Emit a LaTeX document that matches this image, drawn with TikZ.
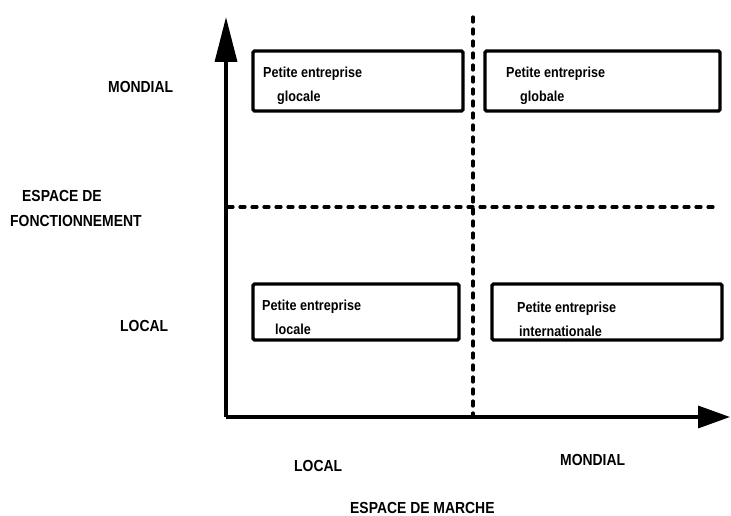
\documentclass[tikz,border=0pt]{standalone}
\usepackage{fontspec}
\setmainfont{Liberation Sans}[FakeStretch=0.87]
\usetikzlibrary{arrows.meta}
\begin{document}
\begin{tikzpicture}[x=1pt,y=-1pt,
  axis/.style={line width=3.4pt},
  divider/.style={line width=3.2pt, line cap=round, dash pattern=on 5pt off 7pt},
  quadbox/.style={draw, line width=3.4pt, rounded corners=1.5pt},
  boxtext/.style={anchor=base west, inner sep=0pt, font=\fontsize{14.5}{17}\selectfont\bfseries},
  axislabel/.style={anchor=base west, inner sep=0pt, font=\fontsize{16}{19}\selectfont\bfseries}]
\useasboundingbox (0,0) rectangle (731,516);

% axes
\coordinate (O) at (226,417);
\coordinate (ytop) at (226,17);
\coordinate (xend) at (730,417);
\draw[axis, -{Triangle[length=45pt,width=22pt]}] (O) -- (ytop);
\draw[axis, -{Triangle[length=32pt,width=22pt]}] (O) -- (xend);

% quadrant dividers
\coordinate (vtop) at (473,17);
\coordinate (vbot) at (473,415);
\coordinate (hleft) at (228,207);
\coordinate (hright) at (718,207);
\draw[divider] (vtop) -- (vbot);
\draw[divider] (hleft) -- (hright);

% quadrant boxes
\draw[quadbox] (253,51) rectangle (463,111);
\draw[quadbox] (485,51) rectangle (720,111);
\draw[quadbox] (253,284) rectangle (459,340);
\draw[quadbox] (492,284) rectangle (722,340);

\node[boxtext] (t1a) at (263,78) {Petite entreprise};
\node[boxtext] (t1b) at (277,102) {glocale};
\node[boxtext] (t2a) at (506,78) {Petite entreprise};
\node[boxtext] (t2b) at (520,102) {globale};
\node[boxtext] (t3a) at (262,310) {Petite entreprise};
\node[boxtext] (t3b) at (275,334) {locale};
\node[boxtext] (t4a) at (517,312) {Petite entreprise};
\node[boxtext] (t4b) at (519,336) {internationale};

% axis labels
\node[axislabel] (ymond) at (108,93) {MONDIAL};
\node[axislabel] (yesp) at (22,201) {ESPACE DE};
\node[axislabel] (yfonc) at (10,226) {FONCTIONNEMENT};
\node[axislabel] (yloc) at (120,331) {LOCAL};
\node[axislabel] (xloc) at (294,471) {LOCAL};
\node[axislabel] (xmond) at (560,465) {MONDIAL};
\node[axislabel] (xesp) at (350,513) {ESPACE DE MARCHE};
\end{tikzpicture}
\end{document}
